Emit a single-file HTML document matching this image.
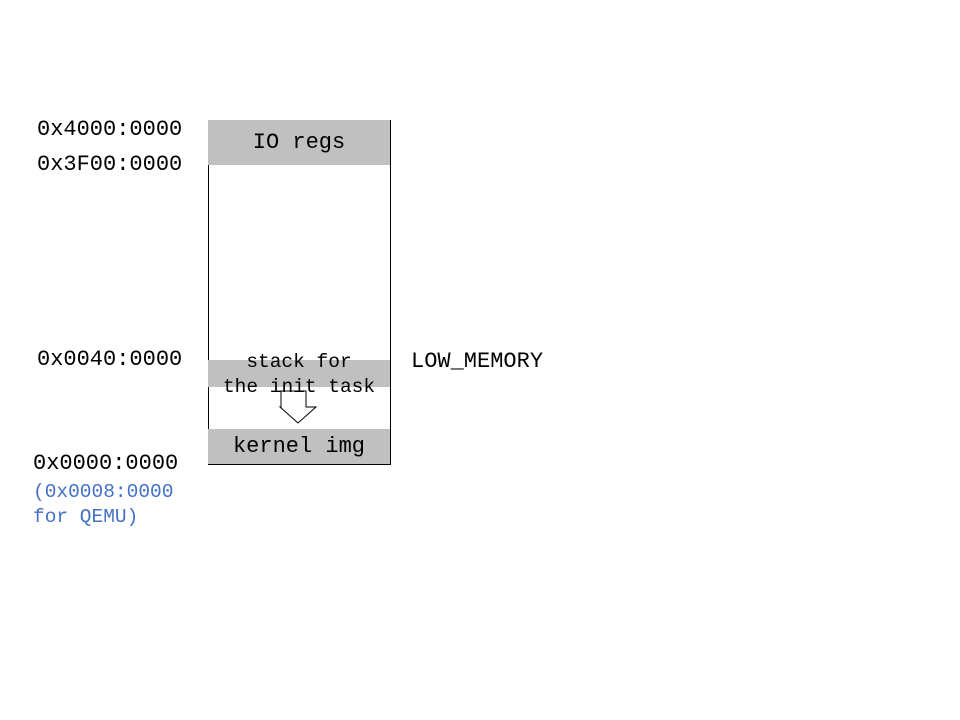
<!DOCTYPE html>
<html><head><style>
body{margin:0;width:960px;height:720px;background:#fff;position:relative;overflow:hidden;font-family:"Liberation Mono",monospace;}
.t{position:absolute;font-size:22px;line-height:24px;color:#000;white-space:pre;}
.b{position:absolute;background:#c0c0c0;}
</style></head><body>
<div style="position:absolute;left:208px;top:120px;width:181px;height:343px;border:1px solid #000;"></div>
<div class="b" style="left:208px;top:120px;width:182px;height:45px;"></div>
<div class="b" style="left:208px;top:360px;width:182px;height:27px;"></div>
<div class="b" style="left:208px;top:429px;width:182px;height:35px;"></div>
<svg style="position:absolute;left:0;top:0" width="960" height="720">
<path d="M281 391 L306 391 L306 407 L316 407 L298 423 L280 407 L281 407 Z" fill="#fff" stroke="#000" stroke-width="1"/>
</svg>
<div class="t" style="left:37px;top:118px;">0x4000:0000</div>
<div class="t" style="left:37px;top:153px;">0x3F00:0000</div>
<div class="t" style="left:37px;top:348px;">0x0040:0000</div>
<div class="t" style="left:33px;top:452px;">0x0000:0000</div>
<div class="t" style="left:33px;top:480px;color:#4472c4;font-size:19.5px;">(0x0008:0000</div>
<div class="t" style="left:33px;top:505px;color:#4472c4;font-size:19.5px;">for QEMU)</div>
<div class="t" style="left:411px;top:350px;">LOW_MEMORY</div>
<div class="t" style="left:208px;width:182px;text-align:center;top:131px;">IO regs</div>
<div class="t" style="left:208px;width:182px;text-align:center;top:350px;font-size:19.5px;">stack for</div>
<div class="t" style="left:208px;width:182px;text-align:center;top:375px;font-size:19.5px;">the init task</div>
<div class="t" style="left:208px;width:182px;text-align:center;top:435px;">kernel img</div>
</body></html>
